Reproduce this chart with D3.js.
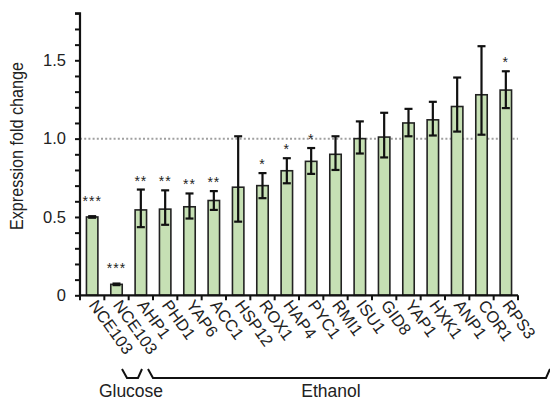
<!DOCTYPE html>
<html>
<head>
<meta charset="utf-8">
<script src="https://cdn.jsdelivr.net/npm/d3@7"></script>
<style>
  html, body { margin: 0; padding: 0; background: #fff; }
  svg { display: block; }
  text { font-family: "Liberation Sans", Arial, Helvetica, sans-serif; fill: #222; }
</style>
</head>
<body>
<svg id="chart" width="550" height="400"></svg>
<script>
const categories = ["NCE103","NCE103","AHP1","PHD1","YAP6","ACC1","HSP12","ROX1","HAP4","PYC1","RMI1","ISU1","GID8","YAP1","HXK1","ANP1","COR1","RPS3"];
const values     = [0.50, 0.07, 0.545, 0.55, 0.565, 0.605, 0.69, 0.70, 0.795, 0.855, 0.90, 1.00, 1.01, 1.10, 1.12, 1.205, 1.28, 1.31];
const errUpper   = [0.505, 0.075, 0.675, 0.67, 0.65, 0.665, 1.015, 0.78, 0.875, 0.94, 1.015, 1.11, 1.165, 1.19, 1.235, 1.39, 1.59, 1.43];
const errLower   = [0.495, 0.065, 0.435, 0.45, 0.49, 0.545, 0.47, 0.62, 0.715, 0.775, 0.80, 0.905, 0.88, 1.015, 1.02, 1.045, 1.025, 1.195];
const significance = ["***","***","**","**","**","**","","*","*","*","","","","","","","","*"];
const yTickValues = [0,0.1,0.2,0.3,0.4,0.5,0.6,0.7,0.8,0.9,1.0,1.1,1.2,1.3,1.4,1.5,1.6,1.7,1.8];
const yTickLabels = {"0":"0","0.5":"0.5","1":"1.0","1.5":"1.5"};
const yLabel = "Expression fold change";
const groups = ["Glucose","Ethanol"];
const referenceValue = 1.0;

const svg = d3.select("#chart");
const x0 = 80, x1 = 518, yTop = 13.3, yBottom = 295.3;

const data = categories.map((c, i) => ({key: i, name: c, v: values[i], hi: errUpper[i], lo: errLower[i], sig: significance[i]}));

const x = d3.scaleBand().domain(d3.range(categories.length)).range([x0, x1]).paddingInner(0.53).paddingOuter(0.265);
const y = d3.scaleLinear().domain([0, 1.8]).range([yBottom, yTop]);

// reference dotted line
svg.append("line")
  .attr("x1", x0).attr("x2", x1)
  .attr("y1", y(referenceValue)).attr("y2", y(referenceValue))
  .attr("stroke", "#a0a0a0").attr("stroke-width", 2).attr("stroke-dasharray", "2,2.2");

// bars
svg.append("g").selectAll("rect").data(data).join("rect")
  .attr("x", d => x(d.key))
  .attr("width", x.bandwidth())
  .attr("y", d => y(d.v))
  .attr("height", d => y(0) - y(d.v))
  .attr("fill", "#c6e0b4")
  .attr("stroke", "#222")
  .attr("stroke-width", 1.6);

// error bars
const eb = svg.append("g").attr("stroke", "#111").attr("stroke-width", 2.2);
const capHalf = 4;
data.forEach(d => {
  const cx = x(d.key) + x.bandwidth() / 2;
  eb.append("line").attr("x1", cx).attr("x2", cx).attr("y1", y(d.hi)).attr("y2", y(d.lo));
  eb.append("line").attr("x1", cx - capHalf).attr("x2", cx + capHalf).attr("y1", y(d.hi)).attr("y2", y(d.hi));
  eb.append("line").attr("x1", cx - capHalf).attr("x2", cx + capHalf).attr("y1", y(d.lo)).attr("y2", y(d.lo));
});

// significance stars
svg.append("g").selectAll("text").data(data.filter(d => d.sig)).join("text")
  .attr("x", d => x(d.key) + x.bandwidth() / 2)
  .attr("y", d => Math.min(y(d.hi) - 12, y(d.v) - 19) + 8)
  .attr("text-anchor", "middle")
  .attr("font-size", 14)
  .attr("letter-spacing", 1)
  .text(d => d.sig);

// y axis
const yAxis = d3.axisLeft(y).tickValues(yTickValues)
  .tickSize(5).tickPadding(9)
  .tickFormat(v => { const k = String(+v.toFixed(1)); return yTickLabels[k] !== undefined ? yTickLabels[k] : ""; });
const gy = svg.append("g").attr("transform", `translate(${x0},0)`).call(yAxis);
gy.select(".domain").attr("stroke", "#111").attr("stroke-width", 2.2).attr("d", `M-5,${yTop}H0V${yBottom}`);
gy.selectAll(".tick line").attr("stroke", "#111").attr("stroke-width", 2);
gy.selectAll(".tick text").attr("font-size", 16.5).attr("fill", "#222").attr("font-family", "Liberation Sans, Arial, sans-serif");

// x axis baseline + ticks at band boundaries
const step = x.step();
const gx = svg.append("g");
gx.append("line").attr("x1", x0 - 1).attr("x2", x1).attr("y1", y(0)).attr("y2", y(0)).attr("stroke", "#111").attr("stroke-width", 2.2);
gx.selectAll("line.tk").data(d3.range(categories.length + 1)).join("line").attr("class", "tk")
  .attr("x1", i => x.range()[0] + i * step).attr("x2", i => x.range()[0] + i * step)
  .attr("y1", y(0)).attr("y2", y(0) + 5)
  .attr("stroke", "#111").attr("stroke-width", 2);

// x labels rotated
svg.append("g").selectAll("text").data(data).join("text")
  .attr("transform", d => `translate(${x(d.key) + x.bandwidth() / 2 - 4},${y(0) + 10}) rotate(54)`)
  .attr("text-anchor", "start")
  .attr("font-size", 16.5)
  .text(d => d.name);

// y label
svg.append("text")
  .attr("transform", "translate(23,146) rotate(-90)")
  .attr("text-anchor", "middle")
  .attr("font-size", 17.5)
  .attr("textLength", 168)
  .attr("lengthAdjust", "spacingAndGlyphs")
  .text(yLabel);

// group brackets
const bracketY = 378, bracketTop = 369;
svg.append("path")
  .attr("d", `M122,${bracketTop}L127,${bracketY}L138,${bracketY}L142,${bracketTop}`)
  .attr("fill", "none").attr("stroke", "#111").attr("stroke-width", 2);
svg.append("path")
  .attr("d", `M148,${bracketTop}L153,${bracketY}L546,${bracketY}L550,${bracketTop}`)
  .attr("fill", "none").attr("stroke", "#111").attr("stroke-width", 2);
svg.append("text").attr("x", 131).attr("y", 397).attr("text-anchor", "middle").attr("font-size", 17.5).text(groups[0]);
svg.append("text").attr("x", 331).attr("y", 397).attr("text-anchor", "middle").attr("font-size", 17.5).text(groups[1]);
</script>
</body>
</html>
